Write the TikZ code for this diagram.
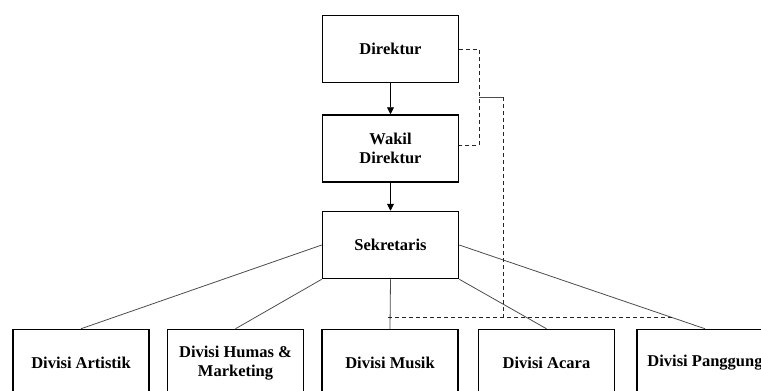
\documentclass[tikz,border=0pt]{standalone}
\usepackage{fontspec}
\setmainfont{Liberation Serif}
\usetikzlibrary{positioning,arrows.meta}

\begin{document}
\begin{tikzpicture}[x=1pt,y=-1pt,
    box/.style={rectangle,draw,line width=1.5pt,minimum width=136pt,minimum height=67pt,
        inner sep=2pt,align=center,font=\fontsize{16.5}{18.5}\selectfont\bfseries},
    link/.style={draw=black!70,line width=0.8pt},
    dashlink/.style={draw=black!85,line width=0.8pt,dash pattern=on 4pt off 3pt},
    arr/.style={-{Triangle[length=7pt,width=7pt]},line width=0.9pt}]
    \useasboundingbox (0,0) rectangle (761,391);

    % Top
    \node[box] (dir) at (390.5,49) {Direktur};
    \node[box] (wakil) at (390.5,148.5) {Wakil\\Direktur};
    \node[box] (sek) at (390.5,245) {Sekretaris};

    % Divisions
    \node[box] (art) at (81,363) {Divisi Artistik};
    \node[box] (humas) at (235.5,363) {Divisi Humas \&\\Marketing};
    \node[box] (musik) at (390,363) {Divisi Musik};
    \node[box] (acara) at (546.5,363) {Divisi Acara};
    \node[box] (pangg) at (705,363) {Divisi Panggung};

    % Helper points
    \coordinate (staf) at (479,97);
    \coordinate (tengah) at (503,97);
    \coordinate (simpul) at (503,317);
    \coordinate (kiri) at (388,317);
    \coordinate (kanan) at (673,317);

    % Arrows
    \draw[arr] (dir) -- (wakil);
    \draw[arr] (wakil) -- (sek);

    % Lines
    \draw[link] (sek.west) -- (art.north);
    \draw[link] (sek.south west) -- (humas.north);
    \draw[link] (sek.south) -- (musik.north);
    \draw[link] (sek.south east) -- (acara.north);
    \draw[link] (sek.east) -- (pangg.north);

    % Dashed
    \draw[dashlink] (dir.east) -| (staf) |- ([yshift=3pt]wakil.east);
    \draw[link] (staf) -- (tengah);
    \draw[dashlink] (tengah) -- (simpul);
    \draw[dashlink] (kiri) -- (kanan);
\end{tikzpicture}
\end{document}
